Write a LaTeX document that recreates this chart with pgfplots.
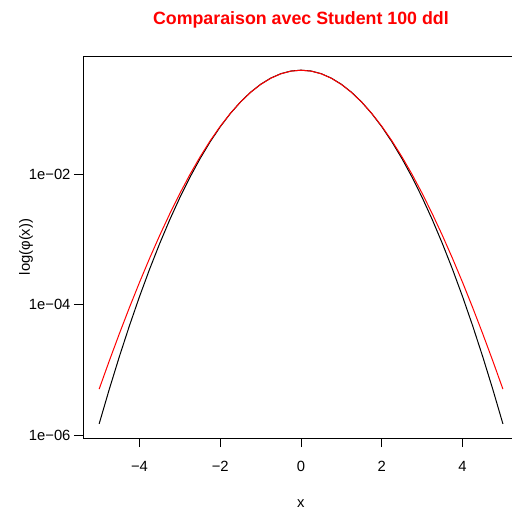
\documentclass[border=0pt]{standalone}
\usepackage{fontspec}
\setmainfont{Liberation Sans}
\usepackage{pgfplots}
\usepackage{pgfplotstable}
\pgfplotsset{compat=1.18}
\pgfplotstableread{
x n t
-5 1.4867e-6 5.0804e-6
-4.75 5.0295e-6 1.3733e-5
-4.5 1.5984e-5 3.5936e-5
-4.25 4.7719e-5 9.0818e-5
-4 1.3383e-4 2.2116e-4
-3.75 3.5260e-4 5.1774e-4
-3.5 8.7268e-4 1.1626e-3
-3.25 2.0290e-3 2.4982e-3
-3 4.4318e-3 5.1260e-3
-2.75 9.0936e-3 1.0022e-2
-2.5 1.7528e-2 1.8630e-2
-2.25 3.1740e-2 3.2863e-2
-2 5.3991e-2 5.4909e-2
-1.75 8.6277e-2 8.6745e-2
-1.5 1.29518e-1 1.29368e-1
-1.25 1.82649e-1 1.81881e-1
-1 2.41971e-1 2.40765e-1
-0.75 3.01137e-1 2.99782e-1
-0.5 3.52065e-1 3.50805e-1
-0.25 3.86668e-1 3.85588e-1
0 3.98942e-1 3.97946e-1
0.25 3.86668e-1 3.85588e-1
0.5 3.52065e-1 3.50805e-1
0.75 3.01137e-1 2.99782e-1
1 2.41971e-1 2.40765e-1
1.25 1.82649e-1 1.81881e-1
1.5 1.29518e-1 1.29368e-1
1.75 8.6277e-2 8.6745e-2
2 5.3991e-2 5.4909e-2
2.25 3.1740e-2 3.2863e-2
2.5 1.7528e-2 1.8630e-2
2.75 9.0936e-3 1.0022e-2
3 4.4318e-3 5.1260e-3
3.25 2.0290e-3 2.4982e-3
3.5 8.7268e-4 1.1626e-3
3.75 3.5260e-4 5.1774e-4
4 1.3383e-4 2.2116e-4
4.25 4.7719e-5 9.0818e-5
4.5 1.5984e-5 3.5936e-5
4.75 5.0295e-6 1.3733e-5
5 1.4867e-6 5.0804e-6
}\dens
\begin{document}
\begin{tikzpicture}
\begin{axis}[
  at={(0,0)}, anchor=south west,
  scale only axis, width=429bp, height=382bp,
  xmin=-5.4, xmax=5.225,
  ymode=log, ymin=9.02e-7, ymax=0.6577,
  axis x line*=box, axis y line*=left,
  xtick pos=lower, ytick pos=left,
  axis line style={line width=1bp, black},
  tick style={line width=1bp, black},
  tick align=outside, major tick length=9bp,
  yminorticks=false, xminorticks=false,
  xtick={-4,-2,0,2,4},
  xticklabels={−4,−2,0,2,4},
  ytick={1e-6,1e-4,1e-2},
  yticklabels={1e−06,1e−04,1e−02},
  ticklabel style={font=\fontsize{14.8bp}{16bp}\selectfont},
  xticklabel style={yshift=-11bp},
  label style={font=\fontsize{14.8bp}{16bp}\selectfont},
  title={Comparaison avec Student 100 ddl},
  title style={at={(0.508,1.0796)}, anchor=center, yshift=0pt, text=red,
    font=\bfseries\fontsize{17.8bp}{20bp}\selectfont},
  xlabel={x}, xlabel style={at={(0.508,-0.172)}, anchor=center},
  ylabel={log(φ(x))}, ylabel style={at={(-0.133,0.5)}, anchor=center},
]
\addplot[black, line width=1bp] table[x=x, y=n] {\dens};
\addplot[red, line width=1bp] table[x=x, y=t] {\dens};
\end{axis}
\pgfresetboundingbox
\useasboundingbox (-83bp,-72bp) rectangle (429bp,438bp);
\end{tikzpicture}
\end{document}
